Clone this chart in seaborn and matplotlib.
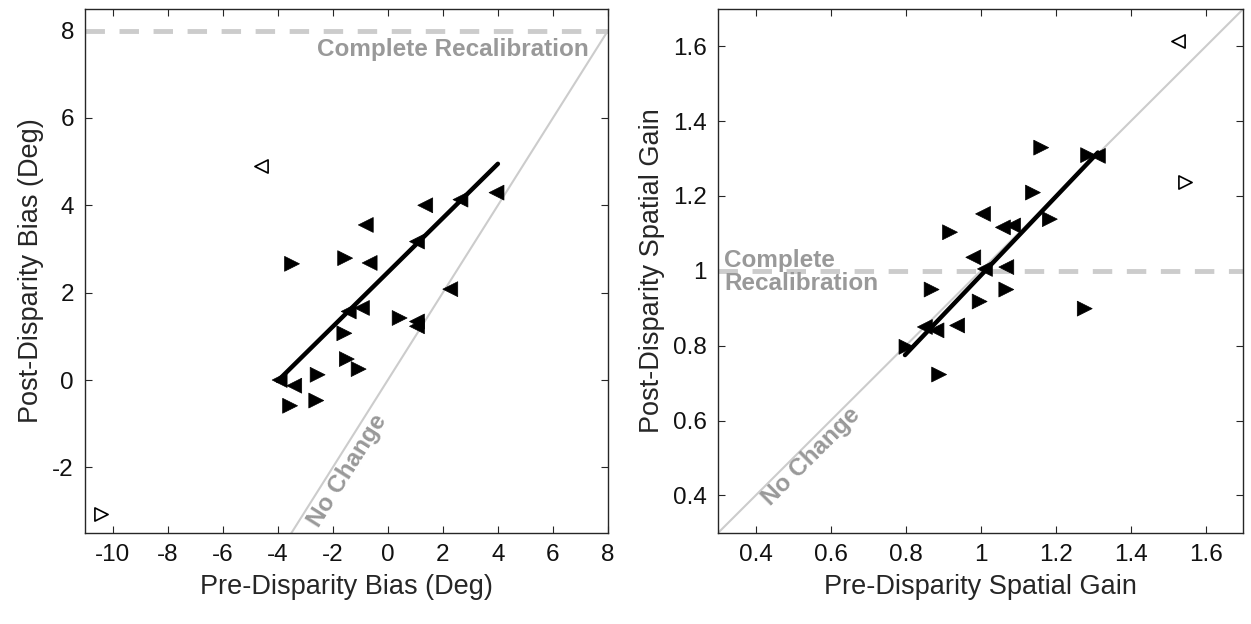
import matplotlib
matplotlib.use("Agg")
import matplotlib.pyplot as plt
import seaborn as sns
import pandas as pd

# ---- data: bias panel (deg) ----
bias_pre_r = [-3.48, -1.55, 0.43, -1.58, -1.49, -1.06, -2.55, -3.55, -2.60]
bias_post_r = [2.66, 2.79, 1.42, 1.07, 0.48, 0.25, 0.12, -0.59, -0.47]
bias_pre_l = [3.95, 2.64, 1.36, -0.66, 1.06, 2.27, -0.94, -1.42, 1.06, 1.06, -3.93, -3.40, -0.80]
bias_post_l = [4.29, 4.13, 4.00, 2.68, 3.17, 2.08, 1.65, 1.57, 1.34, 1.23, 0.00, -0.13, 3.55]
bias_open_pre = [-4.61, -10.42]
bias_open_post = [4.89, -3.06]
bias_open_mk = ["<", ">"]
bias_fit_x = [-4.0, 4.0]
bias_fit_y = [-0.02, 4.95]

# ---- data: spatial gain panel ----
gain_pre_r = [1.161, 1.286, 1.139, 1.184, 0.918, 0.869, 1.068, 0.997, 1.277, 0.802, 0.889]
gain_post_r = [1.329, 1.309, 1.209, 1.138, 1.103, 0.950, 0.950, 0.918, 0.899, 0.797, 0.723]
gain_pre_l = [1.312, 1.006, 1.059, 1.086, 0.980, 1.011, 1.068, 0.851, 0.882, 0.937]
gain_post_l = [1.307, 1.152, 1.116, 1.121, 1.036, 1.005, 1.010, 0.850, 0.841, 0.854]
gain_open_pre = [1.525, 1.543]
gain_open_post = [1.613, 1.238]
gain_open_mk = ["<", ">"]
gain_fit_x = [0.798, 1.312]
gain_fit_y = [0.775, 1.316]

sns.set_style("ticks")
plt.rcParams["font.family"] = ["Liberation Sans", "DejaVu Sans"]
plt.rcParams["axes.unicode_minus"] = False

GREY_LINE = "#cccccc"
GREY_TEXT = "#999999"
AX_COL = "#262626"


def make_df(xr, yr, xl, yl):
    return pd.DataFrame({
        "pre": xr + xl,
        "post": yr + yl,
        "dir": ["R"] * len(xr) + ["L"] * len(xl),
    })


def style_axes(ax):
    for s in ax.spines.values():
        s.set_color(AX_COL)
        s.set_linewidth(1.0)
    ax.tick_params(direction="in", top=True, right=True, length=5,
                   width=0.8, color=AX_COL, labelsize=17.5, labelcolor="#111111",
                   pad=8)


fig = plt.figure(figsize=(12.51, 6.24), dpi=100)
ax1 = fig.add_axes([0.068, 0.146, 0.418, 0.840])
ax2 = fig.add_axes([0.574, 0.146, 0.420, 0.840])

# ---- left panel ----
ax1.plot([-11, 8], [-11, 8], color=GREY_LINE, lw=1.5, zorder=1)
ax1.axhline(8, color=GREY_LINE, lw=3.5, ls=(0, (4, 3)), zorder=1)
df1 = make_df(bias_pre_r, bias_post_r, bias_pre_l, bias_post_l)
sns.scatterplot(data=df1, x="pre", y="post", style="dir",
                markers={"R": ">", "L": "<"}, color="black", s=115,
                edgecolor="black", linewidth=0.5, legend=False, ax=ax1, zorder=3)
for x, y, m in zip(bias_open_pre, bias_open_post, bias_open_mk):
    ax1.scatter(x, y, marker=m, s=90, facecolors="white", edgecolors="black",
                linewidths=1.2, zorder=3)
sns.lineplot(x=bias_fit_x, y=bias_fit_y, color="black", lw=3.2, ax=ax1, zorder=4)
ax1.text(7.3, 7.82, "Complete Recalibration", ha="right", va="top",
         color=GREY_TEXT, fontsize=17.5, fontweight="bold")
ax1.text(-1.45, -2.08, "No Change", ha="center", va="center", rotation=57.8,
         color=GREY_TEXT, fontsize=17.5, fontweight="bold")
ax1.set_xlim(-11, 8)
ax1.set_ylim(-3.5, 8.5)
ax1.set_xticks(range(-10, 9, 2))
ax1.set_yticks(range(-2, 9, 2))
ax1.set_xlabel("Pre-Disparity Bias (Deg)", fontsize=19.5, labelpad=6)
ax1.set_ylabel("Post-Disparity Bias (Deg)", fontsize=19.5, labelpad=6)
style_axes(ax1)

# ---- right panel ----
ax2.plot([0.3, 1.7], [0.3, 1.7], color=GREY_LINE, lw=1.5, zorder=1)
ax2.axhline(1.0, color=GREY_LINE, lw=3.5, ls=(0, (4, 3)), zorder=1)
df2 = make_df(gain_pre_r, gain_post_r, gain_pre_l, gain_post_l)
sns.scatterplot(data=df2, x="pre", y="post", style="dir",
                markers={"R": ">", "L": "<"}, color="black", s=115,
                edgecolor="black", linewidth=0.5, legend=False, ax=ax2, zorder=3)
for x, y, m in zip(gain_open_pre, gain_open_post, gain_open_mk):
    ax2.scatter(x, y, marker=m, s=90, facecolors="white", edgecolors="black",
                linewidths=1.2, zorder=3)
sns.lineplot(x=gain_fit_x, y=gain_fit_y, color="black", lw=3.2, ax=ax2, zorder=4)
ax2.text(0.316, 0.998, "Complete\nRecalibration", ha="left", va="center",
         color=GREY_TEXT, fontsize=17.5, fontweight="bold", linespacing=1.0)
ax2.text(0.548, 0.505, "No Change", ha="center", va="center", rotation=45,
         color=GREY_TEXT, fontsize=17.5, fontweight="bold")
ax2.set_xlim(0.3, 1.7)
ax2.set_ylim(0.3, 1.7)
ax2.set_xticks([0.4, 0.6, 0.8, 1.0, 1.2, 1.4, 1.6])
ax2.set_xticklabels(["0.4", "0.6", "0.8", "1", "1.2", "1.4", "1.6"])
ax2.set_yticks([0.4, 0.6, 0.8, 1.0, 1.2, 1.4, 1.6])
ax2.set_yticklabels(["0.4", "0.6", "0.8", "1", "1.2", "1.4", "1.6"])
ax2.set_xlabel("Pre-Disparity Spatial Gain", fontsize=19.5, labelpad=6)
ax2.set_ylabel("Post-Disparity Spatial Gain", fontsize=19.5, labelpad=6)
style_axes(ax2)

fig.savefig("out.png", dpi=100)
